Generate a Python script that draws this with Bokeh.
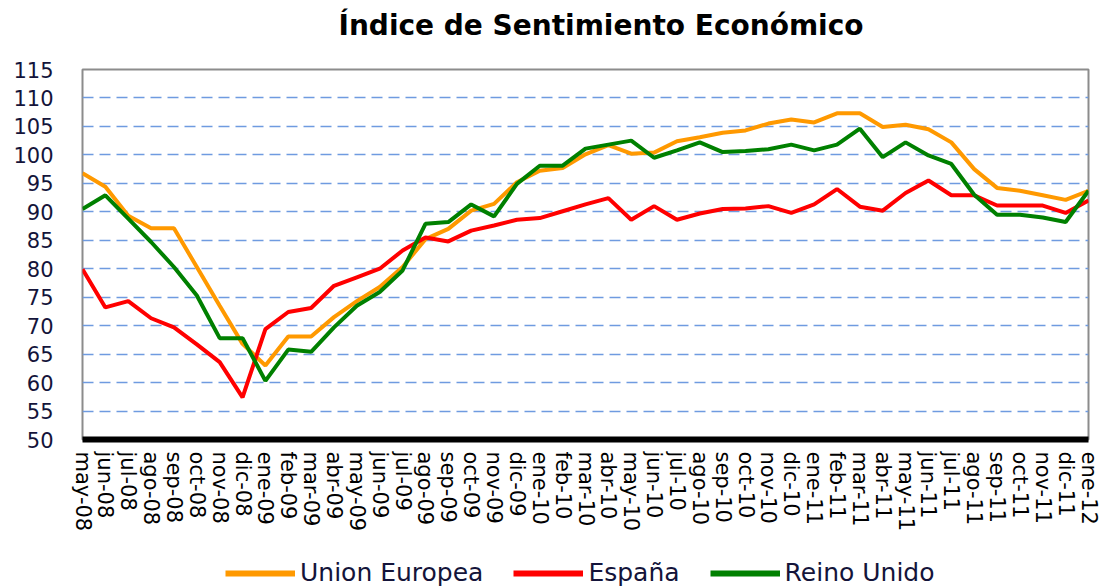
from bokeh.plotting import figure
from bokeh.models import Range1d, FixedTicker, Legend, LegendItem, Title
from bokeh.layouts import column
from bokeh.embed import file_html
from bokeh.resources import INLINE

months = ["may-08", "jun-08", "jul-08", "ago-08", "sep-08", "oct-08", "nov-08", "dic-08",
          "ene-09", "feb-09", "mar-09", "abr-09", "may-09", "jun-09", "jul-09", "ago-09",
          "sep-09", "oct-09", "nov-09", "dic-09", "ene-10", "feb-10", "mar-10", "abr-10",
          "may-10", "jun-10", "jul-10", "ago-10", "sep-10", "oct-10", "nov-10", "dic-10",
          "ene-11", "feb-11", "mar-11", "abr-11", "may-11", "jun-11", "jul-11", "ago-11",
          "sep-11", "oct-11", "nov-11", "dic-11", "ene-12"]

union_europea = [96.8, 94.4, 89.3, 87.1, 87.1, 80.3, 73.5, 66.8, 63.0, 68.1, 68.1, 71.5,
                 74.3, 76.8, 80.3, 85.2, 87.0, 90.2, 91.4, 95.2, 97.2, 97.7, 100.1, 101.7,
                 100.2, 100.4, 102.4, 103.1, 103.9, 104.3, 105.5, 106.2, 105.7, 107.3, 107.3,
                 104.9, 105.3, 104.5, 102.2, 97.5, 94.2, 93.7, 92.9, 92.1, 93.7]

espana = [79.9, 73.2, 74.3, 71.3, 69.7, 66.7, 63.6, 57.4, 69.4, 72.4, 73.1, 77.0, 78.5,
          80.0, 83.2, 85.5, 84.8, 86.7, 87.6, 88.6, 88.9, 90.1, 91.3, 92.4, 88.6, 91.0,
          88.6, 89.7, 90.5, 90.6, 91.0, 89.8, 91.3, 94.0, 90.9, 90.2, 93.3, 95.5, 92.9,
          92.9, 91.1, 91.1, 91.1, 89.8, 92.0]

reino_unido = [90.5, 92.9, 88.8, 84.7, 80.3, 75.3, 67.8, 67.8, 60.3, 65.8, 65.4, 69.7,
               73.5, 75.9, 79.7, 87.9, 88.2, 91.3, 89.2, 94.9, 98.1, 98.1, 101.1, 101.8,
               102.5, 99.5, 100.8, 102.2, 100.5, 100.7, 101.0, 101.8, 100.8, 101.8, 104.6,
               99.6, 102.2, 99.9, 98.4, 93.0, 89.5, 89.5, 89.0, 88.2, 93.7]

series_names = ["Union Europea", "España", "Reino Unido"]
series_colors = ["#ff9900", "#ff0000", "#008000"]

y_ticks = list(range(50, 116, 5))

xs = list(range(len(months)))

# ---------------- main chart ----------------
p = figure(frame_width=1006, frame_height=370, output_backend="svg", toolbar_location=None,
           x_range=Range1d(0, len(months) - 1), y_range=Range1d(50, 115),
           min_border_left=82, min_border_right=16, min_border_top=69,
           min_border_bottom=103)

# real title (outer), spacer title next to the frame
p.title.text = "Índice de Sentimiento Económico"
p.title.align = "left"
p.title.offset = 256
p.title.standoff = 0
p.title.text_font = "DejaVu Sans"
p.title.text_font_size = "28px"
p.title.text_font_style = "bold"
p.title.text_color = "#000000"

spacer = Title(text=" ", text_font_size="10px", standoff=15)
p.add_layout(spacer, "above")

p.outline_line_color = "#8c8c8c"
p.outline_line_width = 2

p.xgrid.grid_line_color = None
p.ygrid.grid_line_color = "#6f9be0"
p.ygrid.grid_line_width = 1.5
p.ygrid.grid_line_dash = "11 6"
p.ygrid.ticker = FixedTicker(ticks=y_ticks)

p.yaxis.ticker = FixedTicker(ticks=y_ticks)
p.yaxis.axis_line_color = None
p.yaxis.major_tick_line_color = None
p.yaxis.major_tick_out = 0
p.yaxis.major_tick_in = 0
p.yaxis.minor_tick_line_color = None
p.yaxis.minor_tick_out = 0
p.yaxis.major_label_text_font = "DejaVu Sans"
p.yaxis.major_label_text_font_size = "21px"
p.yaxis.major_label_text_color = "#14143a"
p.yaxis.major_label_standoff = 29

p.xaxis.ticker = FixedTicker(ticks=xs)
p.xaxis.major_label_overrides = {i: m for i, m in enumerate(months)}
p.xaxis.major_label_orientation = "vertical"
p.xaxis.axis_line_color = "#000000"
p.xaxis.axis_line_width = 6
p.xaxis.major_tick_line_color = None
p.xaxis.major_tick_out = 0
p.xaxis.major_tick_in = 0
p.xaxis.minor_tick_line_color = None
p.xaxis.minor_tick_out = 0
p.xaxis.major_label_text_font = "DejaVu Sans"
p.xaxis.major_label_text_font_size = "21px"
p.xaxis.major_label_text_color = "#000000"
p.xaxis.major_label_standoff = 12

for vals, col in zip([union_europea, espana, reino_unido], series_colors):
    p.line(xs, vals, line_color=col, line_width=4)

# ---------------- legend strip ----------------
pl = figure(width=1104, height=45, output_backend="svg", toolbar_location=None,
            x_range=Range1d(0, 1), y_range=Range1d(0, 1),
            x_axis_location=None, y_axis_location=None,
            min_border_left=0, min_border_right=0, min_border_top=0, min_border_bottom=0)
pl.outline_line_color = None
pl.xgrid.grid_line_color = None
pl.ygrid.grid_line_color = None

nan = float("nan")
items = []
for name, col in zip(series_names, series_colors):
    handle = pl.line(x=[0, 1], y=[nan, nan], line_color=col, line_width=6)
    items.append(LegendItem(label=name, renderers=[handle]))

legend = Legend(items=items, orientation="horizontal", location=(143, 0))
legend.border_line_color = None
legend.background_fill_alpha = 0
legend.label_text_font = "DejaVu Sans"
legend.label_text_font_size = "25px"
legend.label_text_color = "#14143a"
legend.glyph_width = 70
legend.glyph_height = 24
legend.label_standoff = 5
legend.spacing = 30
legend.padding = 0
legend.margin = 0
pl.add_layout(legend, "center")

layout = column(p, pl, spacing=0)

open("out.html", "w").write(file_html(layout, INLINE))
